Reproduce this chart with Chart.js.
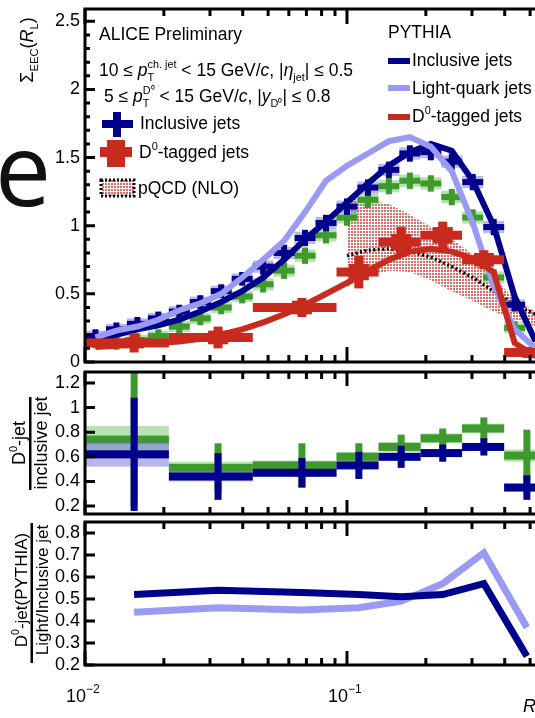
<!DOCTYPE html>
<html>
<head>
<meta charset="utf-8">
<script src="https://cdn.jsdelivr.net/npm/chart.js@4.4.1/dist/chart.umd.min.js"></script>
<style>
  body { margin: 0; background: #fff; }
  #wrap { position: relative; width: 535px; height: 718px; overflow: hidden; }
  #wrap canvas { position: absolute; left: 0; top: 0; }
</style>
</head>
<body>
<div id="wrap">
  <canvas id="top" width="535" height="718"></canvas>
  <canvas id="mid" width="535" height="718"></canvas>
  <canvas id="bot" width="535" height="718"></canvas>
</div>
<script>
const FONT = '"Liberation Sans", Arial, sans-serif';
const X_MIN = 0.01, X_MAX = 0.522;

// R_L bins (fine for inclusive, coarse for D0)
const fineR = [0.01096, 0.01318, 0.01585, 0.01905, 0.02291, 0.02754, 0.03311, 0.03981, 0.04786, 0.05754, 0.06918,
  0.08318, 0.1, 0.1202, 0.1445, 0.1738, 0.2089, 0.2512, 0.302, 0.3631, 0.4365, 0.5248];
const coarseR = [0.0154, 0.0322, 0.0673, 0.111, 0.161, 0.232, 0.333, 0.486];
const coarseEdges = [0.01, 0.0209, 0.0437, 0.0912, 0.132, 0.191, 0.275, 0.398, 0.575];

// top panel, measured
const inclData = [0.19, 0.24, 0.28, 0.32, 0.37, 0.44, 0.52, 0.61, 0.70, 0.80, 0.91, 1.02, 1.14, 1.28, 1.41, 1.53, 1.54, 1.47, 1.32, 0.99, 0.42];
const inclErr = [0.05, 0.05, 0.05, 0.05, 0.05, 0.05, 0.05, 0.05, 0.06, 0.06, 0.06, 0.06, 0.06, 0.06, 0.06, 0.06, 0.06, 0.06, 0.06, 0.06, 0.05];
const inclSys = [0.04, 0.04, 0.04, 0.04, 0.04, 0.04, 0.04, 0.04, 0.045, 0.045, 0.045, 0.045, 0.045, 0.045, 0.045, 0.045, 0.045, 0.045, 0.045, 0.045, 0.04];
const greenData = [0.15, 0.14, 0.16, 0.19, 0.26, 0.32, 0.40, 0.48, 0.57, 0.67, 0.78, 0.93, 1.06, 1.19, 1.29, 1.33, 1.31, 1.21, 1.06, 0.62, 0.25];
const greenErr = [0.05, 0.05, 0.05, 0.05, 0.05, 0.05, 0.05, 0.05, 0.06, 0.06, 0.06, 0.06, 0.06, 0.06, 0.06, 0.06, 0.06, 0.06, 0.06, 0.06, 0.05];
const greenSys = [0.04, 0.04, 0.04, 0.04, 0.04, 0.04, 0.04, 0.04, 0.045, 0.045, 0.045, 0.045, 0.045, 0.045, 0.045, 0.045, 0.045, 0.045, 0.045, 0.045, 0.04];
const d0Data = [0.14, 0.18, 0.40, 0.66, 0.88, 0.93, 0.75, 0.07];
const d0Err = [0.07, 0.08, 0.07, 0.12, 0.11, 0.10, 0.07, 0.04];
const d0Sys = [0.04, 0.05, 0.05, 0.06, 0.06, 0.06, 0.05, 0.03];

// PYTHIA curves
const pyIncl = [0.16, 0.20, 0.24, 0.27, 0.31, 0.37, 0.44, 0.52, 0.62, 0.75, 0.90, 1.03, 1.17, 1.31, 1.44, 1.54, 1.60, 1.55, 1.33, 1.00, 0.48, 0.15];
const pyLight = [0.18, 0.23, 0.26, 0.31, 0.38, 0.43, 0.50, 0.62, 0.75, 0.89, 1.10, 1.33, 1.44, 1.53, 1.62, 1.65, 1.58, 1.40, 1.02, 0.56, 0.24, 0.10];
const pyD0 = [0.11, 0.12, 0.13, 0.14, 0.15, 0.17, 0.20, 0.24, 0.29, 0.35, 0.42, 0.50, 0.58, 0.67, 0.75, 0.81, 0.83, 0.81, 0.76, 0.66, 0.14, 0.04];

// pQCD (NLO)
const pqcdR = [0.1, 0.1202, 0.1445, 0.1738, 0.2089, 0.2512, 0.302, 0.3631, 0.4365, 0.5248];
const pqcdMid = [0.78, 0.82, 0.83, 0.81, 0.77, 0.70, 0.62, 0.52, 0.42, 0.35];
const pqcdUp = [1.20, 1.19, 1.16, 1.08, 0.99, 0.90, 0.79, 0.62, 0.46, 0.37];
const pqcdLow = [0.55, 0.63, 0.67, 0.66, 0.60, 0.52, 0.45, 0.37, 0.31, 0.26];

// middle panel: D0-jet / inclusive jet
const ratioIncl = [0.62, 0.44, 0.47, 0.53, 0.60, 0.63, 0.68, 0.35];
const ratioInclErr = [0.46, 0.19, 0.12, 0.11, 0.09, 0.07, 0.07, 0.10];
const ratioInclSys = [0.10, 0.04, 0.03, 0.03, 0.03, 0.03, 0.03, 0.03];
const ratioGreen = [0.74, 0.51, 0.53, 0.60, 0.68, 0.75, 0.83, 0.61];
const ratioGreenErr = [0.54, 0.20, 0.18, 0.11, 0.10, 0.08, 0.09, 0.21];
const ratioGreenSys = [0.11, 0.05, 0.04, 0.04, 0.04, 0.04, 0.04, 0.05];

// bottom panel: PYTHIA D0 / light, D0 / inclusive
const pyRatioIncl = [0.52, 0.54, 0.53, 0.52, 0.51, 0.52, 0.57, 0.24];
const pyRatioLight = [0.44, 0.46, 0.45, 0.46, 0.49, 0.57, 0.71, 0.37];

const yTicksTop = [0, 0.5, 1, 1.5, 2, 2.5];
const yTicksMid = [0.2, 0.4, 0.6, 0.8, 1, 1.2];
const yTicksBot = [0.2, 0.3, 0.4, 0.5, 0.6, 0.7, 0.8];
const xMajor = [0.01, 0.1];
const xMajorLabels = ['\u22122', '\u22121'];
const xMinor = [0.02, 0.03, 0.04, 0.05, 0.06, 0.07, 0.08, 0.09, 0.2, 0.3, 0.4, 0.5];

const NAVY = '#00008c', LIGHT = '#9a9af5', RED = '#c82a1e', GREEN = '#3f9a2e';

const pts = (xs, ys) => ys.map((y, i) => ({ x: xs[i], y }));
const FINE_HALF = 1.0965; // 0.04 decades
const fineLo = fineR.map(r => r / FINE_HALF), fineHi = fineR.map(r => r * FINE_HALF);

function makeDots() {
  const tile = document.createElement('canvas');
  tile.width = 3; tile.height = 3;
  const g = tile.getContext('2d');
  g.fillStyle = 'rgba(210,55,45,0.75)';
  g.fillRect(0, 0, 2, 2);
  return g.createPattern(tile, 'repeat');
}
const dotFill = makeDots();

// draws text with sub/superscripts, returns width
function rich(ctx, x, y, parts, size, draw = true) {
  let cx = x;
  ctx.textAlign = 'left';
  ctx.textBaseline = 'alphabetic';
  for (const p of parts) {
    if (p.ss) {
      ctx.font = `${size * 0.62}px ${FONT}`;
      const w = Math.max(ctx.measureText(p.ss[0]).width, ctx.measureText(p.ss[1]).width);
      if (draw) {
        ctx.fillText(p.ss[0], cx, y - size * 0.45);
        ctx.fillText(p.ss[1], cx, y + size * 0.3);
      }
      cx += w;
      continue;
    }
    const fs = p.s ? size * 0.62 : size;
    ctx.font = `${p.i ? 'italic ' : ''}${fs}px ${FONT}`;
    const dy = p.s === 'sup' ? -size * 0.45 : p.s === 'sub' ? size * 0.3 : 0;
    if (draw) ctx.fillText(p.t, cx, y + dy);
    cx += ctx.measureText(p.t).width;
  }
  return cx - x;
}

function vtext(ctx, x, cy, parts, size) {
  ctx.save();
  ctx.translate(x, cy);
  ctx.rotate(-Math.PI / 2);
  const w = rich(ctx, 0, 0, parts, size, false);
  rich(ctx, -w / 2, 0, parts, size);
  ctx.restore();
}

const framePlugin = {
  id: 'frame',
  afterDatasetsDraw(chart, args, opts) {
    const { ctx, chartArea: a, scales: { x, y } } = chart;
    ctx.save();
    ctx.strokeStyle = '#000';
    ctx.lineWidth = 3;
    ctx.beginPath();
    ctx.moveTo(a.right + 5, a.top);
    ctx.lineTo(a.left, a.top);
    ctx.lineTo(a.left, a.bottom);
    ctx.lineTo(a.right + 5, a.bottom);
    ctx.stroke();
    ctx.beginPath();
    const tick = (v, len, isX) => {
      if (isX) {
        const px = x.getPixelForValue(v);
        ctx.moveTo(px, a.top); ctx.lineTo(px, a.top + len);
        ctx.moveTo(px, a.bottom); ctx.lineTo(px, a.bottom - len);
      } else {
        const py = y.getPixelForValue(v);
        ctx.moveTo(a.left, py); ctx.lineTo(a.left + len, py);
      }
    };
    xMajor.forEach(v => tick(v, opts.xLen, true));
    xMinor.forEach(v => tick(v, 7, true));
    opts.yMajor.forEach(v => tick(v, 10, false));
    opts.yMinor.forEach(v => tick(v, 5, false));
    ctx.stroke();
    ctx.restore();
  }
};

const crossPlugin = {
  id: 'crosses',
  afterDatasetDraw(chart, args) {
    const ds = chart.data.datasets[args.index];
    if (!ds.cross) return;
    const c = ds.cross, ctx = chart.ctx, a = chart.chartArea;
    const xs = chart.scales.x, ys = chart.scales.y;
    ctx.save();
    ctx.beginPath();
    ctx.rect(a.left, a.top, a.right - a.left, a.bottom - a.top);
    ctx.clip();
    args.meta.data.forEach((pt, i) => {
      const v = ds.data[i].y;
      const xl = xs.getPixelForValue(c.lo[i]), xr = xs.getPixelForValue(c.hi[i]);
      const sTop = ys.getPixelForValue(v + c.sys[i]), sBot = ys.getPixelForValue(v - c.sys[i]);
      const eTop = ys.getPixelForValue(v + c.err[i]), eBot = ys.getPixelForValue(v - c.err[i]);
      ctx.fillStyle = c.sysColor;
      if (c.sysWidth) ctx.fillRect(pt.x - c.sysWidth / 2, sTop, c.sysWidth, sBot - sTop);
      else ctx.fillRect(xl, sTop, xr - xl, sBot - sTop);
      ctx.fillStyle = c.color;
      ctx.fillRect(xl, pt.y - c.hThick / 2, xr - xl, c.hThick);
      ctx.fillRect(pt.x - c.vThick / 2, eTop, c.vThick, eBot - eTop);
    });
    ctx.restore();
  }
};

function lineSet(xs, ys, color, width) {
  return { data: pts(xs, ys), borderColor: color, borderWidth: width, pointRadius: 0, fill: false, tension: 0 };
}
function crossSet(xs, ys, cross) {
  return { data: pts(xs, ys), showLine: false, pointRadius: 0, cross };
}

function options(yMin, yMax, yTicks, padTop, padBottom, frame) {
  return {
    responsive: false,
    animation: false,
    events: [],
    layout: { padding: { left: 0, right: 0, top: padTop, bottom: padBottom } },
    scales: {
      x: { type: 'logarithmic', min: X_MIN, max: X_MAX, display: false },
      y: {
        min: yMin, max: yMax,
        grid: { display: false, drawTicks: false },
        border: { display: false },
        afterBuildTicks: s => { s.ticks = yTicks.map(v => ({ value: v })); },
        afterFit: s => { s.width = 85; s.paddingTop = 0; s.paddingBottom = 0; },
        ticks: { padding: 5, autoSkip: false, color: '#000', font: { family: FONT, size: 18 }, callback: v => String(v) }
      }
    },
    plugins: { legend: { display: false }, tooltip: { enabled: false }, frame }
  };
}

const minorTop = [];
for (let k = 1; k < 26; k++) if (k % 5) minorTop.push(k / 10);

// ---- top panel ----
new Chart(document.getElementById('top'), {
  type: 'line',
  data: {
    datasets: [
      crossSet(coarseR, d0Data, { lo: coarseEdges.slice(0, -1), hi: coarseEdges.slice(1), err: d0Err, sys: d0Sys,
        color: RED, sysColor: RED, hThick: 9, vThick: 9, sysWidth: 20 }),
      lineSet(fineR, pyD0, RED, 6),
      lineSet(fineR, pyLight, LIGHT, 6),
      lineSet(fineR, pyIncl, NAVY, 6),
      crossSet(fineR, inclData, { lo: fineLo, hi: fineHi, err: inclErr, sys: inclSys,
        color: NAVY, sysColor: 'rgba(125,125,215,0.55)', hThick: 6, vThick: 6 }),
      crossSet(fineR, greenData, { lo: fineLo, hi: fineHi, err: greenErr, sys: greenSys,
        color: GREEN, sysColor: 'rgba(120,200,105,0.55)', hThick: 6, vThick: 6 }),
      { data: pts(pqcdR, pqcdMid), borderColor: '#000', borderWidth: 3.5, borderDash: [2, 2.5], pointRadius: 0, fill: false },
      { data: pts(pqcdR, pqcdUp), borderWidth: 0, borderColor: 'rgba(0,0,0,0)', pointRadius: 0, fill: '+1', backgroundColor: dotFill },
      { data: pts(pqcdR, pqcdLow), borderWidth: 0, borderColor: 'rgba(0,0,0,0)', pointRadius: 0, fill: false }
    ]
  },
  options: options(0, 2.59, yTicksTop, 9, 356, { xLen: 15, yMajor: yTicksTop, yMinor: minorTop }),
  plugins: [framePlugin, crossPlugin, {
    id: 'topText',
    afterDraw(chart) {
      const ctx = chart.ctx;
      ctx.save();
      ctx.fillStyle = '#111';
      ctx.font = '100px "Open Sans"';
      ctx.textAlign = 'left';
      ctx.fillText('e', -5, 206);
      ctx.fillStyle = '#000';
      vtext(ctx, 33, 50, [{ t: '\u03a3' }, { t: 'EEC', s: 'sub' }, { t: '(' }, { t: 'R', i: 1 }, { t: 'L', s: 'sub' }, { t: ')' }], 18);
      const fs = 17.5;
      rich(ctx, 99, 40, [{ t: 'ALICE Preliminary' }], fs);
      rich(ctx, 99, 76, [{ t: '10 \u2264 ' }, { t: 'p', i: 1 }, { ss: ['ch. jet', 'T'] }, { t: ' < 15 GeV/' }, { t: 'c', i: 1 },
        { t: ', |' }, { t: '\u03b7', i: 1 }, { t: 'jet', s: 'sub' }, { t: '| \u2264 0.5' }], fs);
      rich(ctx, 104, 102, [{ t: '5 \u2264 ' }, { t: 'p', i: 1 }, { ss: ['D\u2070', 'T'] }, { t: ' < 15 GeV/' }, { t: 'c', i: 1 },
        { t: ', |' }, { t: 'y', i: 1 }, { t: 'D\u2070', s: 'sub' }, { t: '| \u2264 0.8' }], fs);
      // data legend
      ctx.fillStyle = NAVY;
      ctx.fillRect(102, 120, 31, 8);
      ctx.fillRect(113, 112, 8, 25);
      ctx.fillStyle = RED;
      ctx.fillRect(100, 147, 32, 10);
      ctx.fillRect(107, 140, 18, 27);
      ctx.fillStyle = dotFill;
      ctx.fillRect(101, 180, 33, 16);
      ctx.strokeStyle = '#000';
      ctx.lineWidth = 3;
      ctx.setLineDash([2, 2]);
      ctx.strokeRect(101, 180, 33, 16);
      ctx.setLineDash([]);
      ctx.fillStyle = '#000';
      rich(ctx, 140, 129, [{ t: 'Inclusive jets' }], fs);
      rich(ctx, 139, 158, [{ t: 'D' }, { t: '0', s: 'sup' }, { t: '-tagged jets' }], fs);
      rich(ctx, 138, 194, [{ t: 'pQCD (NLO)' }], fs);
      // PYTHIA legend
      rich(ctx, 388, 38, [{ t: 'PYTHIA' }], fs);
      ctx.fillStyle = NAVY; ctx.fillRect(388, 58, 22, 6);
      ctx.fillStyle = LIGHT; ctx.fillRect(388, 85, 22, 6);
      ctx.fillStyle = RED; ctx.fillRect(388, 114, 22, 6);
      ctx.fillStyle = '#000';
      rich(ctx, 412, 66, [{ t: 'Inclusive jets' }], fs);
      rich(ctx, 412, 94, [{ t: 'Light-quark jets' }], fs);
      rich(ctx, 412, 122, [{ t: 'D' }, { t: '0', s: 'sup' }, { t: '-tagged jets' }], fs);
      ctx.restore();
    }
  }]
});

// ---- middle panel ----
new Chart(document.getElementById('mid'), {
  type: 'line',
  data: {
    datasets: [
      crossSet(coarseR, ratioIncl, { lo: coarseEdges.slice(0, -1), hi: coarseEdges.slice(1), err: ratioInclErr, sys: ratioInclSys,
        color: NAVY, sysColor: 'rgba(110,110,215,0.5)', hThick: 8, vThick: 7 }),
      crossSet(coarseR, ratioGreen, { lo: coarseEdges.slice(0, -1), hi: coarseEdges.slice(1), err: ratioGreenErr, sys: ratioGreenSys,
        color: GREEN, sysColor: 'rgba(100,190,90,0.45)', hThick: 8, vThick: 7 })
    ]
  },
  options: options(0.135, 1.289, yTicksMid, 372, 204, { xLen: 14, yMajor: yTicksMid, yMinor: [] }),
  plugins: [framePlugin, crossPlugin, {
    id: 'midText',
    afterDraw(chart) {
      const ctx = chart.ctx;
      ctx.save();
      ctx.fillStyle = '#000';
      vtext(ctx, 25, 443, [{ t: 'D' }, { t: '0', s: 'sup' }, { t: '-jet' }], 18);
      ctx.fillRect(29, 397, 2.5, 93);
      vtext(ctx, 47, 443, [{ t: 'inclusive jet' }], 18);
      ctx.restore();
    }
  }]
});

// ---- bottom panel ----
new Chart(document.getElementById('bot'), {
  type: 'line',
  data: {
    datasets: [
      lineSet(coarseR, pyRatioIncl, NAVY, 7),
      lineSet(coarseR, pyRatioLight, LIGHT, 7)
    ]
  },
  options: options(0.2, 0.85, yTicksBot, 522, 53, { xLen: 14, yMajor: yTicksBot, yMinor: [] }),
  plugins: [framePlugin, {
    id: 'botText',
    afterDraw(chart) {
      const ctx = chart.ctx, x = chart.scales.x;
      ctx.save();
      ctx.fillStyle = '#000';
      vtext(ctx, 27, 590, [{ t: 'D' }, { t: '0', s: 'sup' }, { t: '-jet(PYTHIA)' }], 17);
      ctx.fillRect(30.5, 523, 2.5, 140);
      vtext(ctx, 48, 590, [{ t: 'Light/Inclusive jet' }], 17);
      xMajor.forEach((v, i) => {
        const px = x.getPixelForValue(v);
        ctx.font = `18px ${FONT}`;
        ctx.textAlign = 'right';
        ctx.fillText('10', px + 1, 702);
        ctx.textAlign = 'left';
        ctx.font = `12px ${FONT}`;
        ctx.fillText(xMajorLabels[i], px + 1, 693);
      });
      ctx.font = `italic 18px ${FONT}`;
      ctx.textAlign = 'left';
      ctx.fillText('R', 523, 712);
      ctx.restore();
    }
  }]
});
</script>
</body>
</html>
